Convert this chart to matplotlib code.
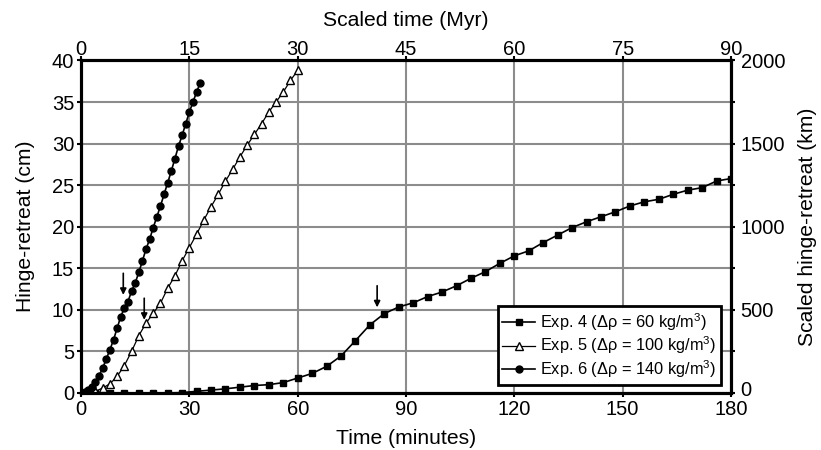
import numpy as np
import matplotlib as mpl
mpl.use('Agg')
import matplotlib.pyplot as plt
from matplotlib.transforms import ScaledTranslation

# hinge-retreat (cm) vs time (minutes) for the three experiments
t_exp4 = np.arange(0, 181, 4)
r_exp4 = [0, 0, 0, 0, 0, 0, 0, 0.05,
          0.2, 0.35, 0.5, 0.7, 0.9, 1.0, 1.25, 1.8, 2.35, 3.2, 4.45, 6.3,
          8.2, 9.55, 10.35, 10.85, 11.6, 12.15, 12.9, 13.8, 14.6, 15.6,
          16.5, 17.1, 18.1, 19.0, 19.9, 20.6, 21.2, 21.8, 22.5, 23.0,
          23.3, 23.9, 24.4, 24.7, 25.5, 25.8]

t_exp5 = np.arange(0, 61, 2)
r_exp5 = [0, 0.05, 0.2, 0.6, 1.1, 2.0, 3.3, 5.0, 6.9, 8.4, 9.6, 10.8,
          12.6, 14.1, 15.9, 17.5, 19.1, 20.8, 22.4, 23.9, 25.5, 26.9,
          28.4, 29.8, 31.1, 32.4, 33.8, 35.0, 36.2, 37.6, 38.8]

t_exp6 = np.arange(0, 34, 1)
r_exp6 = [0, 0.1, 0.3, 0.7, 1.3, 2.1, 3.0, 4.1, 5.2, 6.4, 7.8, 9.2, 10.2,
          11.0, 12.25, 13.25, 14.5, 15.9, 17.3, 18.5, 19.9, 21.2, 22.5,
          23.9, 25.3, 26.7, 28.2, 29.7, 31.0, 32.4, 33.8, 35.0, 36.2, 37.3]

labels = ['Exp. 4 (\u0394\u03c1 = 60 kg/m$^{3}$)',
          'Exp. 5 (\u0394\u03c1 = 100 kg/m$^{3}$)',
          'Exp. 6 (\u0394\u03c1 = 140 kg/m$^{3}$)']

# arrows marking slab/660 interaction (time, retreat)
arrow_t = [82, 17.5, 11.7]
arrow_r = [10.3, 8.8, 11.8]

# scaling factors
myr_per_min = 0.5
km_per_cm = 50


def main():
    plt.rcParams['font.family'] = ['Liberation Sans', 'DejaVu Sans']
    plt.rcParams['mathtext.fontset'] = 'custom'
    plt.rcParams['mathtext.rm'] = 'Liberation Sans'
    plt.rcParams['font.size'] = 14.5
    plt.rcParams['axes.labelsize'] = 15.2

    fig = plt.figure(figsize=(8.21, 4.5), dpi=100)
    ax = fig.add_axes([0.0987, 0.1267, 0.7917, 0.7389])

    ax.plot(t_exp4, r_exp4, color='black', lw=1.2, marker='s', ms=5,
            label=labels[0], zorder=3)
    ax.plot(t_exp5, r_exp5, color='black', lw=0.9, marker='^', ms=5.5,
            mfc='white', mew=1.0, label=labels[1], zorder=3)
    ax.plot(t_exp6, r_exp6, color='black', lw=1.2, marker='o', ms=5,
            label=labels[2], zorder=3)

    for t, r in zip(arrow_t, arrow_r):
        ax.annotate('', xy=(t, r), xytext=(t, r + 2.6),
                    arrowprops=dict(arrowstyle='-|>', color='black', lw=1.2,
                                    mutation_scale=9, shrinkA=0, shrinkB=0),
                    zorder=4)

    ax.set_xlim(0, 180)
    ax.set_ylim(0, 40)
    ax.set_xticks(np.arange(0, 181, 30))
    ax.set_yticks(np.arange(0, 41, 5))
    ax.grid(True, color='#8c8c8c', lw=1.5, zorder=0)
    ax.set_axisbelow(True)
    ax.set_xlabel('Time (minutes)', labelpad=7)
    ax.set_ylabel('Hinge-retreat (cm)', labelpad=12)
    ax.tick_params(direction='out', length=3, width=1.5, pad=2)

    for s in ax.spines.values():
        s.set_linewidth(2.2)

    # scaled axes
    axt = ax.twiny()
    axt.set_xlim(0, 180 * myr_per_min)
    axt.set_xticks(np.arange(0, 91, 15))
    axt.set_xlabel('Scaled time (Myr)', labelpad=10)
    axt.tick_params(direction='out', length=3, width=1.5, pad=-2)

    axr = ax.twinx()
    axr.set_ylim(0, 40 * km_per_cm)
    axr.set_yticks(np.arange(0, 2001, 500))
    axr.set_yticks(np.arange(0, 2001, 250), minor=True)
    axr.set_ylabel('Scaled hinge-retreat (km)', labelpad=9)
    axr.tick_params(which='both', direction='out', length=3, width=1.5, pad=4)

    # lift the right-hand zero clear of the bottom 180 label
    fig.canvas.draw()
    zero_lbl = axr.get_yticklabels()[0]
    zero_lbl.set_transform(zero_lbl.get_transform() +
                           ScaledTranslation(0, 3 / 72, fig.dpi_scale_trans))

    for a in (axt, axr):
        for s in a.spines.values():
            s.set_linewidth(2.2)

    leg = ax.legend(loc='lower right', bbox_to_anchor=(0.985, 0.025),
                    fontsize=11.8, frameon=True, fancybox=False,
                    handlelength=2.0, handletextpad=0.3, borderpad=0.3,
                    labelspacing=0.1, borderaxespad=0)
    leg.get_frame().set_edgecolor('black')
    leg.get_frame().set_linewidth(2)
    leg.get_frame().set_alpha(1)
    leg.set_zorder(5)

    fig.savefig('out.png', dpi=100)
    plt.close(fig)


if __name__ == '__main__':
    main()
